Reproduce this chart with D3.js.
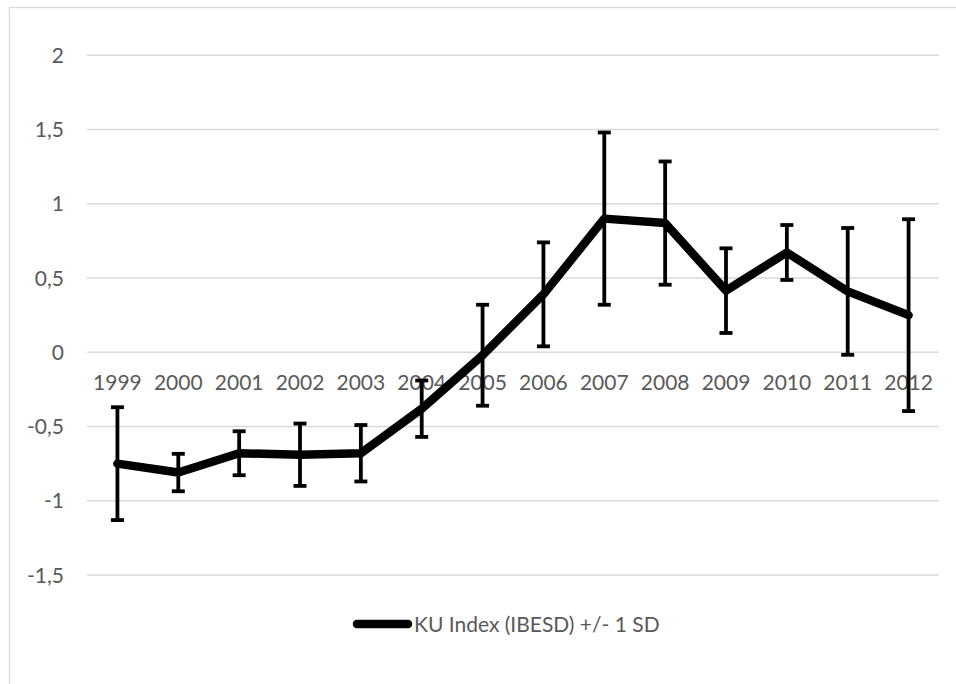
<!DOCTYPE html>
<html>
<head>
<meta charset="utf-8">
<script src="https://cdn.jsdelivr.net/npm/d3@7"></script>
<style>
  html, body { margin: 0; padding: 0; background: #fff; }
  svg { display: block; }
  text { font-family: Lato, "Open Sans", "Liberation Sans", sans-serif; fill: #595959; }
</style>
</head>
<body>
<svg id="chart" width="956" height="684"></svg>
<script>
// KU Index (IBESD), yearly mean with +/- 1 standard deviation
const years = ["1999", "2000", "2001", "2002", "2003", "2004", "2005",
               "2006", "2007", "2008", "2009", "2010", "2011", "2012"];
const kuIndex = [-0.75, -0.81, -0.68, -0.69, -0.68, -0.38, -0.02,
                 0.39, 0.90, 0.87, 0.415, 0.672, 0.41, 0.25];
const kuSD = [0.38, 0.126, 0.148, 0.21, 0.19, 0.19, 0.34,
              0.35, 0.58, 0.415, 0.285, 0.185, 0.427, 0.646];
const yTicks = [-1.5, -1, -0.5, 0, 0.5, 1, 1.5, 2];
const seriesName = "KU Index (IBESD) +/- 1 SD";

const svg = d3.select("#chart");
const fmt = v => String(v).replace(".", ",");
const fontSize = "21px";

// frame around the chart area
svg.append("rect")
  .attr("x", 9.5).attr("y", 7.5)
  .attr("width", 1000).attr("height", 700)
  .attr("fill", "none").attr("stroke", "#d9d9d9").attr("stroke-width", 1.3);

const x = d3.scaleBand().domain(years).range([87, 939]);
const cx = d => x(d) + x.bandwidth() / 2;
const y = d3.scaleLinear().domain([-1.5, 2]).range([575, 55.3]);

// horizontal gridlines
svg.append("g").selectAll("line").data(yTicks).join("line")
  .attr("x1", 87).attr("x2", 939)
  .attr("y1", d => y(d)).attr("y2", d => y(d))
  .attr("stroke", "#d9d9d9").attr("stroke-width", 1.5);

// value axis labels
svg.append("g").selectAll("text").data(yTicks).join("text")
  .attr("x", 64).attr("y", d => y(d))
  .attr("dy", "0.36em")
  .attr("text-anchor", "end")
  .style("font-size", fontSize)
  .text(fmt);

// category labels sit just below the zero line
svg.append("g").selectAll("text").data(years).join("text")
  .attr("x", d => cx(d)).attr("y", y(0) + 38)
  .attr("text-anchor", "middle")
  .style("font-size", fontSize)
  .text(d => d);

const pts = years.map((yr, i) => ({ yr, v: kuIndex[i], sd: kuSD[i] }));

// series line
svg.append("path")
  .datum(pts)
  .attr("d", d3.line().x(d => cx(d.yr)).y(d => y(d.v)))
  .attr("fill", "none").attr("stroke", "#000")
  .attr("stroke-width", 8.5)
  .attr("stroke-linejoin", "round").attr("stroke-linecap", "round");

// error bars (+/- 1 SD)
const eb = svg.append("g").attr("stroke", "#000").attr("stroke-width", 3.8);
eb.selectAll("line.v").data(pts).join("line").attr("class", "v")
  .attr("x1", d => cx(d.yr)).attr("x2", d => cx(d.yr))
  .attr("y1", d => y(d.v + d.sd)).attr("y2", d => y(d.v - d.sd));
eb.selectAll("line.t").data(pts).join("line").attr("class", "t")
  .attr("x1", d => cx(d.yr) - 6.5).attr("x2", d => cx(d.yr) + 6.5)
  .attr("y1", d => y(d.v + d.sd)).attr("y2", d => y(d.v + d.sd));
eb.selectAll("line.b").data(pts).join("line").attr("class", "b")
  .attr("x1", d => cx(d.yr) - 6.5).attr("x2", d => cx(d.yr) + 6.5)
  .attr("y1", d => y(d.v - d.sd)).attr("y2", d => y(d.v - d.sd));

// legend
const lg = svg.append("g").attr("transform", "translate(0,624)");
lg.append("line")
  .attr("x1", 357).attr("x2", 408).attr("y1", 0).attr("y2", 0)
  .attr("stroke", "#000").attr("stroke-width", 8.5).attr("stroke-linecap", "round");
lg.append("text")
  .attr("x", 414).attr("y", 0).attr("dy", "0.36em")
  .style("font-size", fontSize)
  .text(seriesName);
</script>
</body>
</html>
